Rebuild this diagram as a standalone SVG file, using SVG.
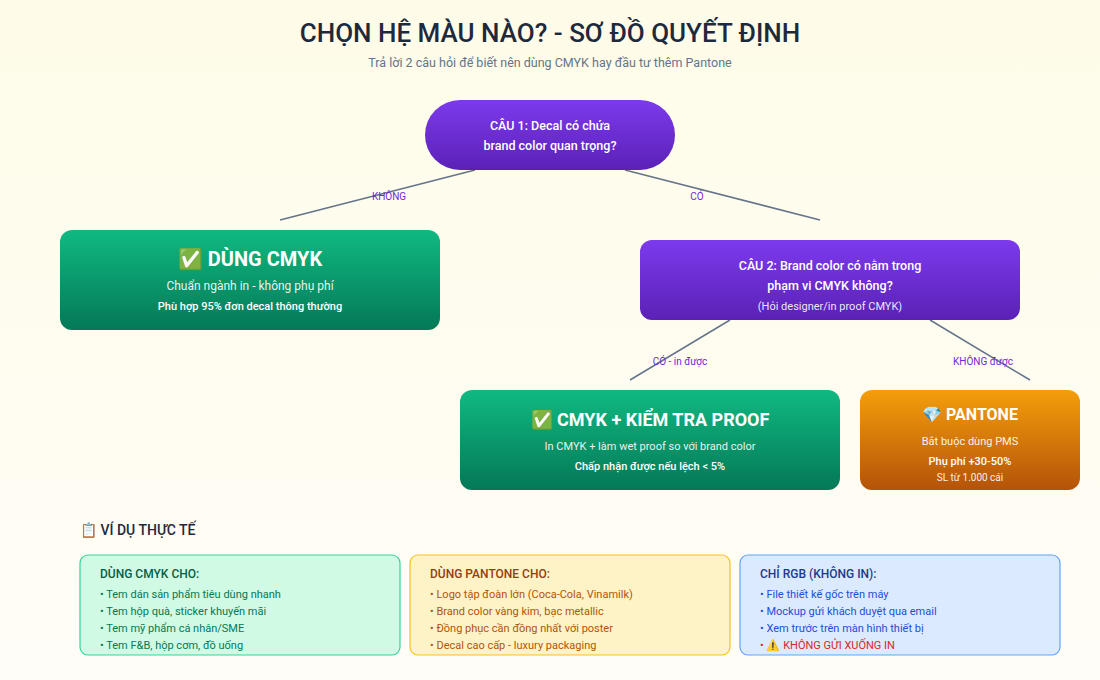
<svg xmlns="http://www.w3.org/2000/svg" width="1100" height="680" viewBox="0 0 1100 680">
<defs>
<linearGradient id="bg" x1="0" y1="0" x2="0" y2="1"><stop offset="0" stop-color="#fefce8"/><stop offset="1" stop-color="#fffdf7"/></linearGradient>
<linearGradient id="pu" x1="0" y1="0" x2="0" y2="1"><stop offset="0" stop-color="#7c3aed"/><stop offset="1" stop-color="#5b21b6"/></linearGradient>
<linearGradient id="gr" x1="0" y1="0" x2="0" y2="1"><stop offset="0" stop-color="#10b981"/><stop offset="1" stop-color="#047857"/></linearGradient>
<linearGradient id="or" x1="0" y1="0" x2="0" y2="1"><stop offset="0" stop-color="#f59e0b"/><stop offset="1" stop-color="#b45309"/></linearGradient>
</defs>
<style>
text{font-family:Roboto,"Noto Sans",sans-serif}
.w{fill:#fff;text-anchor:middle}
.lbl{fill:#6d28d9;font-size:10px;text-anchor:middle}
.ln{stroke:#64748b;stroke-width:1.5;fill:none}
.it{font-size:11px}
</style>
<rect width="1100" height="680" fill="url(#bg)"/>
<text x="550" y="42" text-anchor="middle" font-size="26" font-weight="500" fill="#1e293b">CHỌN HỆ MÀU NÀO? - SƠ ĐỒ QUYẾT ĐỊNH</text>
<text x="550" y="67" text-anchor="middle" font-size="12.5" fill="#64748b">Trả lời 2 câu hỏi để biết nên dùng CMYK hay đầu tư thêm Pantone</text>
<g id="connectors">
<line class="ln" x1="475" y1="170" x2="280" y2="220"/>
<line class="ln" x1="625" y1="170" x2="820" y2="220"/>
<line class="ln" x1="730" y1="320" x2="630" y2="380"/>
<line class="ln" x1="930" y1="320" x2="1030" y2="380"/>
<text class="lbl" x="389" y="200">KHÔNG</text>
<text class="lbl" x="697" y="200">CÓ</text>
<text class="lbl" x="680" y="365">CÓ - in được</text>
<text class="lbl" x="983" y="365">KHÔNG được</text>
</g>
<g id="q1">
<rect x="425" y="100" width="250" height="70" rx="35" fill="url(#pu)"/>
<text class="w" x="550" y="130" font-size="12.5" font-weight="500">CÂU 1: Decal có chứa</text>
<text class="w" x="550" y="150" font-size="12.5" font-weight="500">brand color quan trọng?</text>
</g>
<g id="cmyk">
<rect x="60" y="230" width="380" height="100" rx="12" fill="url(#gr)"/>
<text class="w" x="250" y="266" font-size="20" font-weight="bold">✅ DÙNG CMYK</text>
<text class="w" x="250" y="290" font-size="12" fill-opacity="0.92">Chuẩn ngành in - không phụ phí</text>
<text class="w" x="250" y="310" font-size="11" font-weight="500">Phù hợp 95% đơn decal thông thường</text>
</g>
<g id="q2">
<rect x="640" y="240" width="380" height="80" rx="12" fill="url(#pu)"/>
<text class="w" x="830" y="270" font-size="12.5" font-weight="500">CÂU 2: Brand color có nằm trong</text>
<text class="w" x="830" y="290" font-size="12.5" font-weight="500">phạm vi CMYK không?</text>
<text class="w" x="830" y="310" font-size="11" fill-opacity="0.9">(Hỏi designer/in proof CMYK)</text>
</g>
<g id="proof">
<rect x="460" y="390" width="380" height="100" rx="12" fill="url(#gr)"/>
<text class="w" x="650" y="426" font-size="18" font-weight="bold">✅ CMYK + KIỂM TRA PROOF</text>
<text class="w" x="650" y="450" font-size="11" fill-opacity="0.92">In CMYK + làm wet proof so với brand color</text>
<text class="w" x="650" y="470" font-size="11" font-weight="500">Chấp nhận được nếu lệch &lt; 5%</text>
</g>
<g id="pantone">
<rect x="860" y="390" width="220" height="100" rx="12" fill="url(#or)"/>
<text class="w" x="970" y="420" font-size="16" font-weight="bold">💎 PANTONE</text>
<text class="w" x="970" y="445" font-size="11" fill-opacity="0.92">Bắt buộc dùng PMS</text>
<text class="w" x="970" y="465" font-size="11" font-weight="500">Phụ phí +30-50%</text>
<text class="w" x="970" y="481" font-size="10" fill-opacity="0.92">SL từ 1.000 cái</text>
</g>
<text x="80" y="535" font-size="14" font-weight="500" fill="#1e293b">📋 VÍ DỤ THỰC TẾ</text>
<g id="ex-cmyk">
<rect x="80" y="555" width="320" height="100" rx="8" fill="#d1fae5" stroke="#34d399" stroke-width="1.2"/>
<text x="100" y="578" font-size="12" font-weight="500" fill="#065f46">DÙNG CMYK CHO:</text>
<g class="it" fill="#047857">
<text x="100" y="598">• Tem dán sản phẩm tiêu dùng nhanh</text>
<text x="100" y="615">• Tem hộp quà, sticker khuyến mãi</text>
<text x="100" y="632">• Tem mỹ phẩm cá nhân/SME</text>
<text x="100" y="649">• Tem F&amp;B, hộp cơm, đồ uống</text>
</g>
</g>
<g id="ex-pantone">
<rect x="410" y="555" width="320" height="100" rx="8" fill="#fef3c7" stroke="#fbbf24" stroke-width="1.2"/>
<text x="430" y="578" font-size="12" font-weight="500" fill="#92400e">DÙNG PANTONE CHO:</text>
<g class="it" fill="#b45309">
<text x="430" y="598">• Logo tập đoàn lớn (Coca-Cola, Vinamilk)</text>
<text x="430" y="615">• Brand color vàng kim, bạc metallic</text>
<text x="430" y="632">• Đồng phục cần đồng nhất với poster</text>
<text x="430" y="649">• Decal cao cấp - luxury packaging</text>
</g>
</g>
<g id="ex-rgb">
<rect x="740" y="555" width="320" height="100" rx="8" fill="#dbeafe" stroke="#60a5fa" stroke-width="1.2"/>
<text x="760" y="578" font-size="12" font-weight="500" fill="#1e3a8a">CHỈ RGB (KHÔNG IN):</text>
<g class="it" fill="#1d4ed8">
<text x="760" y="598">• File thiết kế gốc trên máy</text>
<text x="760" y="615">• Mockup gửi khách duyệt qua email</text>
<text x="760" y="632">• Xem trước trên màn hình thiết bị</text>
<text x="760" y="649" fill="#dc2626">• ⚠️ KHÔNG GỬI XUỐNG IN</text>
</g>
</g>
</svg>
